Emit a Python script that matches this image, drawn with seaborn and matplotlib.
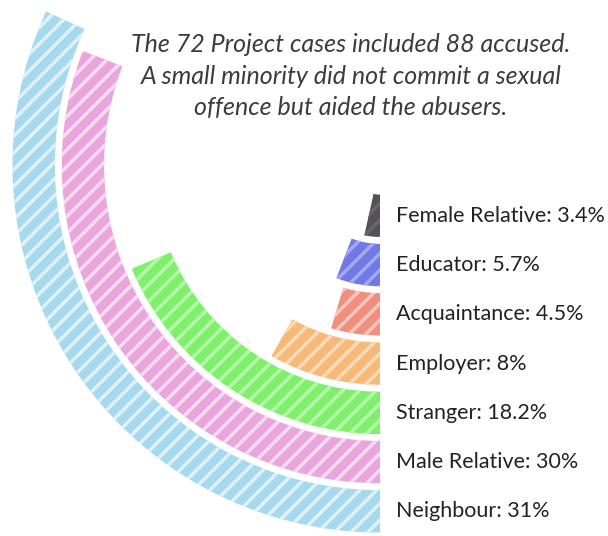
import numpy as np
import pandas as pd
import seaborn as sns
import matplotlib.pyplot as plt
from matplotlib.transforms import offset_copy

# data
categories = ['Female Relative', 'Educator', 'Acquaintance', 'Employer',
              'Stranger', 'Male Relative', 'Neighbour']
percent = [3.4, 5.7, 4.5, 8, 18.2, 30, 31]
labels = ['Female Relative: 3.4%', 'Educator: 5.7%', 'Acquaintance: 4.5%',
          'Employer: 8%', 'Stranger: 18.2%', 'Male Relative: 30%',
          'Neighbour: 31%']
title_lines = ['The 72 Project cases included 88 accused.',
               'A small minority did not commit a sexual',
               'offence but aided the abusers.']

face_colors = ['#55505a', '#7179e6', '#f18f7f', '#f7b978',
               '#80f06c', '#eaa5dd', '#a6d9ee']
streak_colors = ['#6a646e', '#a3a8f0', '#f8c6bd', '#fbdcb8',
                 '#b5f8aa', '#f7dcf1', '#e0f1f8']

deg_per_pct = 3.7  # drawing scale of the arcs

df = pd.DataFrame({'category': categories, 'pct': percent})
df['angle'] = np.deg2rad(df['pct'] * deg_per_pct)

sns.set_theme(style='white')
plt.rcParams['font.family'] = ['Lato', 'DejaVu Sans']
plt.rcParams['hatch.linewidth'] = 2.5

fig = plt.figure(figsize=(6.08, 5.36), dpi=100)
ax = fig.add_axes([0.0148, 0.0, 1.2204, 1.3843], projection='polar')
ax.set_theta_zero_location('S')
ax.set_theta_direction(-1)

sns.barplot(data=df, x='angle', y='category', hue='category', order=categories,
            palette=dict(zip(categories, face_colors)), saturation=1,
            width=0.86, orient='y', legend=False, ax=ax)

for patch, col in zip(ax.patches, streak_colors):
    patch.set_edgecolor(col)
    patch.set_linewidth(0)
    patch.set_hatch('//')

ax.set_xlim(0, 2 * np.pi)
ax.set_ylim(-1.03, 6.5)
ax.set_xticks([])
ax.set_yticks([])
ax.grid(False)
ax.spines['polar'].set_visible(False)
ax.set_xlabel('')
ax.set_ylabel('')
ax.patch.set_alpha(0)

label_tr = offset_copy(ax.transData, fig=fig, x=16, y=0, units='dots')
for i, lab in enumerate(labels):
    ax.text(0, i, lab, transform=label_tr, ha='left', va='center',
            fontsize=15.5, color='#222222', clip_on=False)

for k, line in enumerate(title_lines):
    fig.text(351 / 608, 1 - (45 + 31 * k) / 536, line, ha='center', va='center',
             fontsize=18, fontstyle='italic', color='#3c3c3c')

fig.savefig('out.png', dpi=100)
